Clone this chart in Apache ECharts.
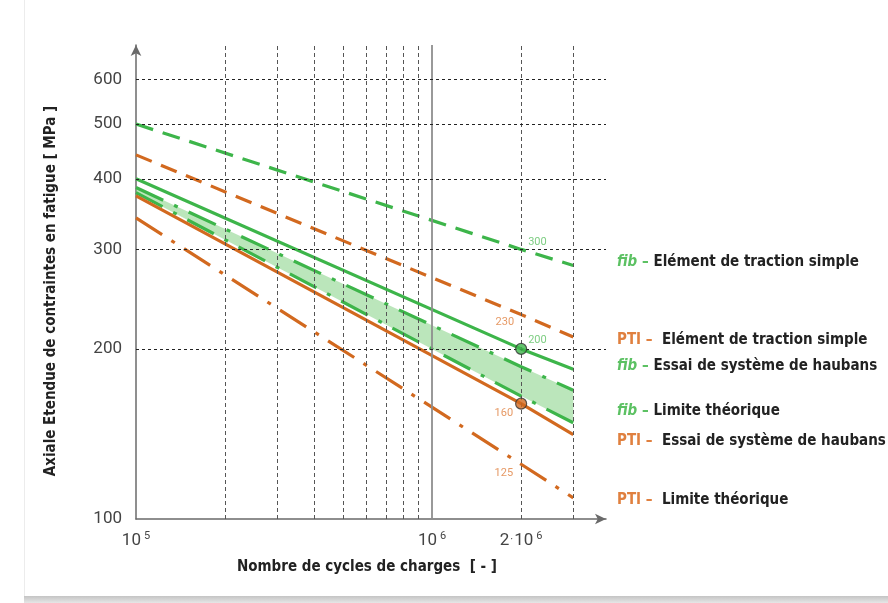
<!DOCTYPE html>
<html><head><meta charset="utf-8">
<script src="https://cdn.jsdelivr.net/npm/echarts@6/dist/echarts.min.js"></script>
<style>html,body{margin:0;padding:0;background:#fff}#c{width:888px;height:603px}</style>
</head><body><div id="c"></div>
<script>
// ---- data ----
const cycles = [1e5, 2e6, 3e6];
const fibTraction   = [500, 300, 281];  // fib – Elément de traction simple (green dashed)
const ptiTraction   = [441, 230, 210];  // PTI – Elément de traction simple (orange dashed)
const fibSystem     = [400, 200, 184];  // fib – Essai de système de haubans (green solid)
const ptiSystem     = [373, 160, 141];  // PTI – Essai de système de haubans (orange solid)
const fibLimitUpper = [386, 186, 169];  // fib – Limite théorique, upper bound (green dash-dot)
const fibLimitLower = [378, 165, 148];  // fib – Limite théorique, lower bound (green dash-dot)
const ptiLimit      = [341, 125, 109];  // PTI – Limite théorique (orange dash-dot)
const xGridValues = [2e5, 3e5, 4e5, 5e5, 6e5, 7e5, 8e5, 9e5, 2e6, 3e6];
const xMainGrid = [1e6];
const yGridValues = [200, 300, 400, 500, 600];
const yTickValues = [100, 200, 300, 400, 500, 600];
const xTickValues = [1e5, 1e6, 2e6];
const xTickLabels = ['10{s|5}', '10{s|6}', '2{d|·}10{s|6}'];
const legendItems = [
  { src: 'fib', text: 'Elément de traction simple' },
  { src: 'PTI', text: 'Elément de traction simple' },
  { src: 'fib', text: 'Essai de système de haubans' },
  { src: 'fib', text: 'Limite théorique' },
  { src: 'PTI', text: 'Essai de système de haubans' },
  { src: 'PTI', text: 'Limite théorique' }
];
const legendY = [260, 338, 364, 409, 439, 498];

const GREEN = '#3db54a';
const ORANGE = '#d2691f';
const GREEN_TXT = '#5cc163';
const ORANGE_TXT = '#e0803f';
const NARROW = '"DejaVu Sans Condensed","DejaVu Sans",sans-serif';

function lineSeries(name, vals, color, type, z) {
  return {
    type: 'line', name: name, data: cycles.map((c, i) => [c, vals[i]]),
    symbol: 'none', silent: true, animation: false, z: z,
    lineStyle: { color: color, width: 3.2, type: type, cap: 'butt' }
  };
}

const chart = echarts.init(document.getElementById('c'), null, { renderer: 'canvas' });

const annotLabels = [
  { v: [2e6, fibTraction[1]], c: GREEN_TXT, pos: 'right', off: [0, -7] },
  { v: [2e6, ptiTraction[1]], c: ORANGE_TXT, pos: 'left', off: [0, 8] },
  { v: [2e6, fibSystem[1]], c: GREEN_TXT, pos: 'right', off: [0, -9] },
  { v: [2e6, ptiSystem[1]], c: ORANGE_TXT, pos: 'left', off: [-1, 10] },
  { v: [2e6, ptiLimit[1]], c: ORANGE_TXT, pos: 'left', off: [-1, 9] }
];

const option = {
  backgroundColor: '#fff',
  animation: false,
  grid: { left: 136, top: 45, right: 282, bottom: 84 },
  xAxis: {
    type: 'log', logBase: 10, min: 1e5, max: 3.87e6,
    name: 'Nombre de cycles de charges  [ - ]', nameLocation: 'middle', nameGap: 41,
    nameTextStyle: { fontFamily: NARROW, fontSize: 15, fontWeight: 'bold', color: '#222', padding: [0, 8, 0, 0] },
    axisLine: { show: true, lineStyle: { color: '#6a6a6a', width: 1.5 }, symbol: ['none', 'arrow'], symbolSize: [8, 11] },
    axisTick: { show: false, customValues: xTickValues },
    splitLine: { show: false },
    axisLabel: {
      customValues: xTickValues, margin: 12, color: '#444', fontFamily: 'Roboto, sans-serif', fontSize: 17,
      formatter: function (v) { const i = xTickValues.findIndex(t => Math.abs(t - v) / t < 1e-6); return i >= 0 ? xTickLabels[i] : ''; },
      rich: {
        s: { fontSize: 11, verticalAlign: 'top', color: '#444', padding: [0, 0, 8, 3], fontFamily: 'Roboto, sans-serif' },
        d: { fontSize: 11, color: '#444', padding: [0, 1, 0, 1] }
      }
    }
  },
  yAxis: {
    type: 'log', logBase: 10, min: 100, max: 690,
    name: 'Axiale Etendue de contraintes en fatigue [ MPa ]', nameLocation: 'middle', nameGap: 77,
    nameTextStyle: { fontFamily: NARROW, fontSize: 15, fontWeight: 'bold', color: '#222', padding: [0, 18, 0, 0] },
    axisLine: { show: true, lineStyle: { color: '#6a6a6a', width: 1.5 }, symbol: ['none', 'arrow'], symbolSize: [8, 11] },
    axisTick: { show: false, customValues: yTickValues },
    splitLine: { show: false },
    axisLabel: { customValues: yTickValues, margin: 14, color: '#444', fontFamily: 'Roboto, sans-serif', fontSize: 17 }
  },
  series: [
    {
      type: 'line', name: 'grid', data: [[1e5, 100]], symbol: 'none', silent: true, z: 1,
      lineStyle: { width: 0 },
      markLine: {
        silent: true, symbol: ['none', 'none'], label: { show: false }, animation: false,
        lineStyle: { type: [4, 3], color: '#555', width: 1 },
        data: xGridValues.map(v => ({ xAxis: v }))
          .concat(xMainGrid.map(v => ({ xAxis: v, lineStyle: { type: 'solid', color: '#8e8e8e', width: 1.8 } })))
          .concat(yGridValues.map(v => ({ yAxis: v, lineStyle: { type: [3, 3], color: '#222', width: 1 } })))
      }
    },
    {
      type: 'custom', name: 'band', coordinateSystem: 'cartesian2d', z: 2, silent: true,
      data: [[cycles[0], fibLimitUpper[0]]],
      renderItem: function (params, api) {
        const pts = [];
        cycles.forEach((c, i) => pts.push(api.coord([c, fibLimitUpper[i]])));
        for (let i = cycles.length - 1; i >= 0; i--) pts.push(api.coord([cycles[i], fibLimitLower[i]]));
        return { type: 'polygon', shape: { points: pts }, style: { fill: 'rgba(120,205,120,0.5)' } };
      }
    },
    lineSeries('fib traction', fibTraction, GREEN, [18, 10], 3),
    lineSeries('PTI traction', ptiTraction, ORANGE, [17, 10], 3),
    lineSeries('fib système', fibSystem, GREEN, 'solid', 4),
    lineSeries('PTI système', ptiSystem, ORANGE, 'solid', 4),
    lineSeries('fib limite haut', fibLimitUpper, GREEN, [30, 12, 4, 12], 3),
    lineSeries('fib limite bas', fibLimitLower, GREEN, [30, 12, 4, 12], 3),
    lineSeries('PTI limite', ptiLimit, ORANGE, [31, 11, 4, 11], 3),
    {
      type: 'scatter', name: 'points', z: 6, silent: true, symbolSize: 11,
      itemStyle: { borderColor: '#333', borderWidth: 1.2 },
      data: [
        { value: [2e6, fibSystem[1]], itemStyle: { color: GREEN } },
        { value: [2e6, ptiSystem[1]], itemStyle: { color: ORANGE } }
      ]
    },
    {
      type: 'scatter', name: 'labels', z: 7, silent: true, symbolSize: 10,
      itemStyle: { color: 'rgba(0,0,0,0)' },
      data: annotLabels.map(a => ({
        value: a.v,
        label: { show: true, position: a.pos, distance: 2, offset: a.off, color: a.c, fontSize: 11,
          fontFamily: 'Roboto, sans-serif', formatter: p => String(p.value[1]) }
      }))
    }
  ],
  graphic: [
    { type: 'line', shape: { x1: 24.5, y1: 0, x2: 24.5, y2: 596 }, style: { stroke: '#ececec', lineWidth: 1 }, silent: true },
    { type: 'rect', shape: { x: 24, y: 596, width: 864, height: 7 },
      style: { fill: new echarts.graphic.LinearGradient(0, 0, 0, 1, [{ offset: 0, color: '#c4c4c4' }, { offset: 1, color: '#e6e6e6' }]) }, silent: true }
  ].concat(legendItems.map((it, i) => ({
    type: 'text', left: 617, top: legendY[i] - 5, silent: true,
    style: {
      text: it.src === 'fib' ? '{f|fib}{fd| – }{t|' + it.text + '}' : '{p|PTI –  }{t|' + it.text + '}',
      rich: {
        f: { fontFamily: NARROW, fontSize: 15, fontStyle: 'italic', fontWeight: 'bold', fill: GREEN_TXT, lineHeight: 18 },
        fd: { fontFamily: NARROW, fontSize: 15, fontWeight: 'bold', fill: GREEN_TXT, lineHeight: 18 },
        p: { fontFamily: NARROW, fontSize: 15, fontWeight: 'bold', fill: ORANGE_TXT, lineHeight: 18 },
        t: { fontFamily: NARROW, fontSize: 15, fontWeight: 'bold', fill: '#222', lineHeight: 18 }
      }
    }
  })))
};
chart.setOption(option);
</script>
</body></html>
